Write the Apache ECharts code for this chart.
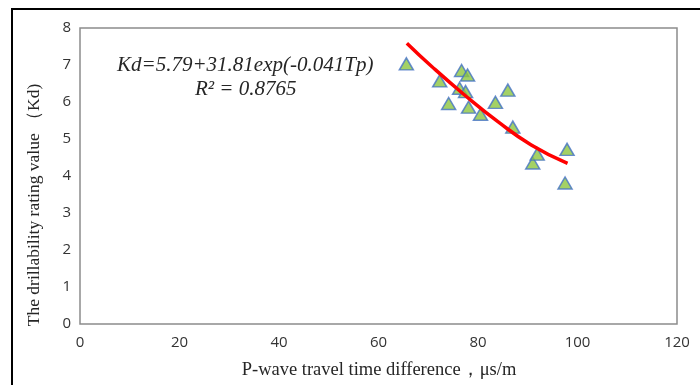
<!DOCTYPE html>
<html>
<head>
<meta charset="utf-8">
<script src="https://cdn.jsdelivr.net/npm/echarts@6/dist/echarts.min.js"></script>
<style>html,body{margin:0;padding:0;background:#fff;}#c{width:700px;height:385px;}</style>
</head>
<body>
<div id="c"></div>
<script>
// Measured points: [P-wave travel time difference (us/m), Kd]
var tpValues = [65.6, 72.3, 74.1, 76.3, 76.7, 77.5, 77.9, 78.1, 80.5, 83.5, 86.0, 87.0, 91.0, 91.9, 97.5, 97.9];
var kdValues = [7.03, 6.57, 5.96, 6.37, 6.85, 6.28, 6.73, 5.86, 5.67, 5.99, 6.32, 5.32, 4.35, 4.59, 3.81, 4.72];
// Fitted curve as drawn
var fitTp = [65.7, 70.7, 77.3, 84.0, 90.7, 98.0];
var fitKd = [7.59, 6.96, 6.19, 5.47, 4.84, 4.34];
var xTicks = [0, 20, 40, 60, 80, 100, 120];
var yTicks = [0, 1, 2, 3, 4, 5, 6, 7, 8];
var equationText = 'Kd=5.79+31.81exp(-0.041Tp)';
var r2Text = 'R² = 0.8765';
var xTitle = 'P-wave travel time difference，μs/m';
var yTitle = 'The drillability rating value （Kd)';

var scatterData = tpValues.map(function (t, i) { return [t, kdValues[i]]; });
var fitData = fitTp.map(function (t, i) { return [t, fitKd[i]]; });

var chart = echarts.init(document.getElementById('c'), null, {renderer: 'canvas'});
var tickFont = {fontFamily: 'Open Sans, Noto Sans, sans-serif', fontSize: 15, color: '#333333'};
chart.setOption({
  animation: false,
  backgroundColor: '#fff',
  grid: {left: 80, top: 28, right: 23, bottom: 61, show: true, borderColor: '#8c8c8c', borderWidth: 1.5, containLabel: false},
  xAxis: {
    type: 'value', min: xTicks[0], max: xTicks[xTicks.length - 1], interval: 20,
    axisLine: {show: false}, axisTick: {show: false}, splitLine: {show: false},
    axisLabel: Object.assign({margin: 11}, tickFont)
  },
  yAxis: {
    type: 'value', min: yTicks[0], max: yTicks[yTicks.length - 1], interval: 1,
    axisLine: {show: false}, axisTick: {show: false}, splitLine: {show: false},
    axisLabel: Object.assign({margin: 9}, tickFont)
  },
  graphic: [
    {type: 'rect', shape: {x: 12, y: 9, width: 720, height: 420}, style: {fill: 'none', stroke: '#000', lineWidth: 2}, silent: true},
    {type: 'text', x: 117, y: 65, style: {text: equationText, font: 'italic 21px "Liberation Serif", "Times New Roman", serif', fill: '#262626', verticalAlign: 'middle'}},
    {type: 'text', x: 195, y: 89, style: {text: r2Text, font: 'italic 21px "Liberation Serif", "Times New Roman", serif', fill: '#262626', verticalAlign: 'middle'}},
    {type: 'text', x: 379, y: 370, style: {text: xTitle, font: '18.5px "Liberation Serif", "Times New Roman", serif', fill: '#262626', align: 'center', verticalAlign: 'middle'}},
    {type: 'text', x: 34, y: 205, rotation: Math.PI / 2, style: {text: yTitle, font: '17.5px "Liberation Serif", "Times New Roman", serif', fill: '#262626', align: 'center', verticalAlign: 'middle'}}
  ],
  series: [
    {
      type: 'line', data: fitData, smooth: true, showSymbol: false, z: 3,
      lineStyle: {color: '#ff0000', width: 3.5}
    },
    {
      type: 'scatter', data: scatterData, symbol: 'triangle', symbolSize: [14, 12], z: 2,
      itemStyle: {color: '#8dc63f', borderColor: '#4472c4', borderWidth: 1.5}
    }
  ]
});
</script>
</body>
</html>
